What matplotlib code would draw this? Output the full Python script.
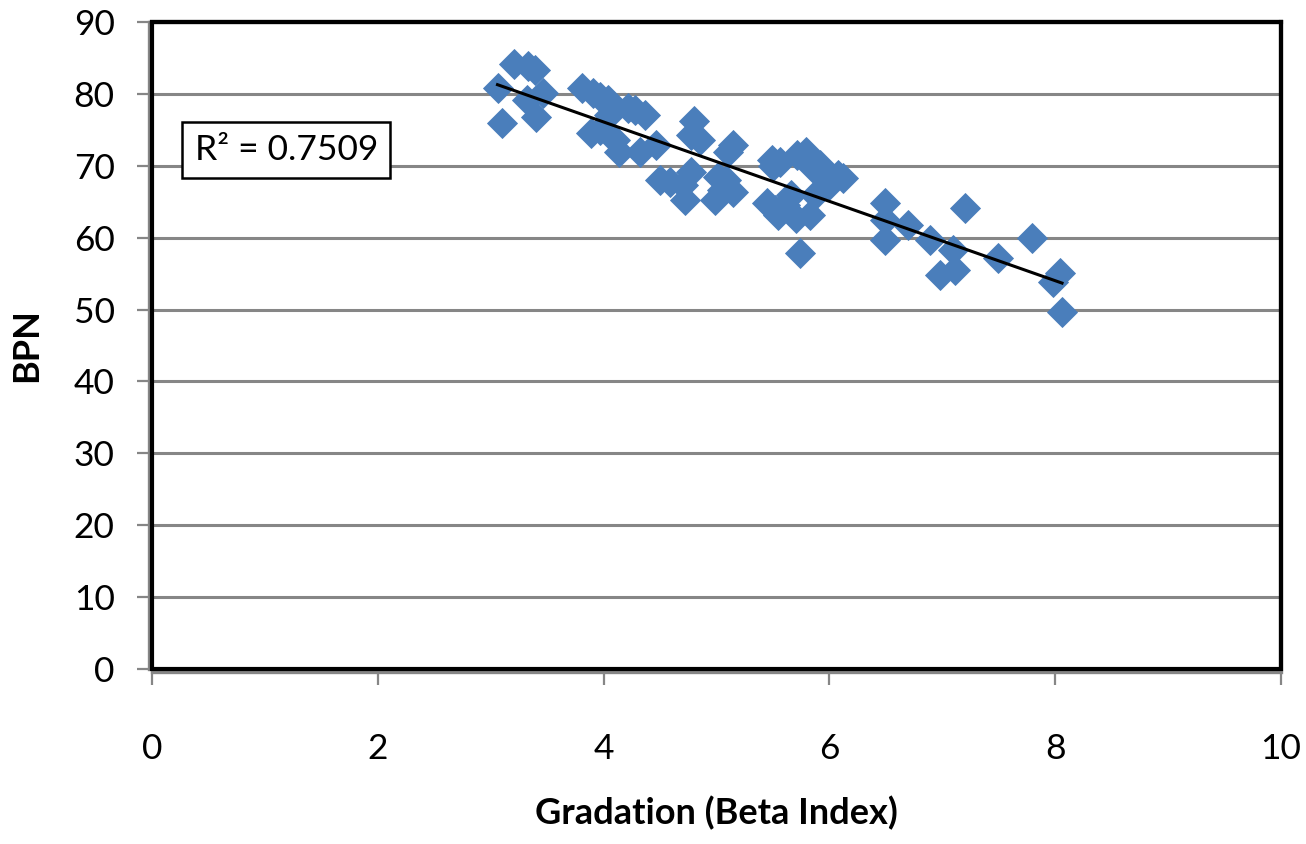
import matplotlib
matplotlib.use("Agg")
import matplotlib.pyplot as plt
import numpy as np
from matplotlib.patches import Rectangle

plt.rcParams['font.family'] = ['Lato', 'DejaVu Sans']

# gradation (beta index) vs BPN
beta = [3.06, 3.10, 3.21, 3.33, 3.39, 3.32, 3.40, 3.46,
        3.81, 3.91, 3.97, 4.04, 4.08, 3.89, 3.97, 4.05, 4.10, 4.14,
        4.22, 4.28, 4.37, 4.32, 4.46, 4.50, 4.59, 4.70, 4.72, 4.77,
        4.80, 4.77, 4.85, 4.99, 5.01, 5.10, 5.15, 5.08, 5.15, 5.05,
        5.45, 5.52, 5.54, 5.49, 5.56, 5.71, 5.79, 5.74, 5.70, 5.61,
        5.83, 5.85, 5.92, 5.96, 6.00, 5.87, 6.08, 6.12, 5.50, 5.66,
        6.49, 6.49, 6.49, 6.70, 6.89, 6.98, 7.09, 7.11, 7.20, 7.49,
        7.79, 7.98, 8.04, 8.06]
bpn = [80.8, 76.0, 84.2, 83.9, 83.3, 79.1, 76.8, 80.1,
       80.8, 80.1, 79.6, 79.1, 78.3, 74.5, 75.0, 77.0, 73.6, 71.9,
       78.1, 77.7, 77.0, 71.9, 72.9, 68.0, 67.7, 67.3, 65.2, 69.1,
       76.2, 74.3, 73.6, 65.2, 68.4, 71.9, 72.9, 68.0, 66.3, 66.6,
       64.8, 63.8, 63.1, 70.8, 70.5, 71.5, 71.9, 57.9, 62.7, 64.5,
       63.1, 69.7, 70.1, 68.3, 67.3, 65.9, 68.7, 68.3, 70.0, 66.0,
       64.8, 62.4, 59.7, 61.8, 59.7, 54.8, 58.3, 55.5, 64.1, 57.2,
       59.9, 53.8, 55.1, 49.7]
r2_text = "R\u00b2 = 0.7509"

xticks = [0, 2, 4, 6, 8, 10]
yticks = [0, 10, 20, 30, 40, 50, 60, 70, 80, 90]

fig = plt.figure(figsize=(13.06, 8.44), dpi=100)
ax = fig.add_axes([0.1164, 0.2073, 0.8645, 0.7667])

ax.plot(beta, bpn, linestyle='none', marker='D', markersize=15.5,
        color='#4A7EBB', markeredgecolor='#4A7EBB', markeredgewidth=0.6,
        zorder=3)

# linear trend line over the data range
slope, icpt = np.polyfit(beta, bpn, 1)
xs = np.array([min(beta), max(beta)])
ax.plot(xs, slope * xs + icpt, color='black', lw=2.2, zorder=4)

ax.set_xlim(0, 10)
ax.set_ylim(0, 90)
ax.set_xticks(xticks)
ax.set_yticks(yticks)
ax.yaxis.grid(True, color='#868686', lw=2.2)
ax.set_axisbelow(True)

gray = '#868686'
ax.tick_params(axis='both', direction='out', length=9, width=1.6, color=gray,
               labelsize=25.5)
ax.tick_params(axis='y', pad=16)
ax.tick_params(axis='x', pad=35)

for side in ['top', 'right']:
    ax.spines[side].set_color('black')
    ax.spines[side].set_linewidth(3)
for side in ['left', 'bottom']:
    ax.spines[side].set_color(gray)
    ax.spines[side].set_linewidth(2.4)
    ax.spines[side].set_position(('outward', 2))
ax.add_patch(Rectangle((0, 0), 1, 1, transform=ax.transAxes, fill=False,
                       edgecolor='black', lw=3, clip_on=False, zorder=5))

ax.text(1.19, 72.2, r2_text, fontsize=25.5, ha='center', va='center', zorder=6,
        bbox=dict(boxstyle='square,pad=0.35', facecolor='white',
                  edgecolor='black', lw=1.8))

ax.set_xlabel('Gradation (Beta Index)', fontsize=26, fontweight='bold',
              labelpad=22)
ax.set_ylabel('BPN', fontsize=26, fontweight='bold', labelpad=22)

fig.savefig('out.png', dpi=100)
